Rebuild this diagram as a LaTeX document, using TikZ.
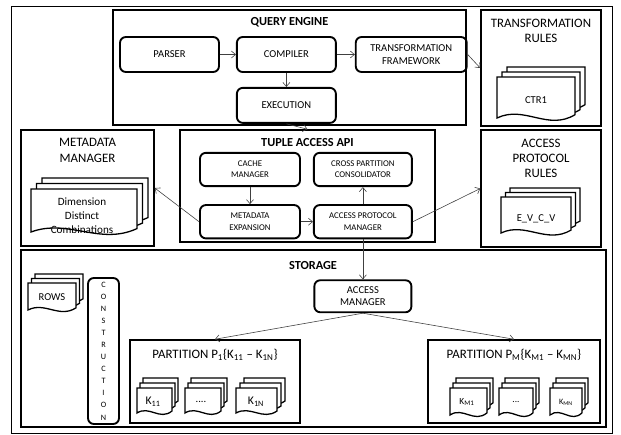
\documentclass[tikz,border=0pt]{standalone}
\usepackage{fontspec}
\setmainfont{Carlito}
\usetikzlibrary{positioning,fit,arrows.meta}

\tikzset{
  box/.style={draw, line width=1.6pt, rounded corners=5pt, align=center, inner sep=1pt,
    minimum width=2.97cm, minimum height=1.05cm, font=\fontsize{9}{10.5}\selectfont},
  smallbox/.style={box, minimum width=3cm, minimum height=1cm, font=\fontsize{7.5}{9.5}\selectfont},
  tallbox/.style={draw, line width=1.6pt, rounded corners=5pt, align=center, inner sep=0pt,
    minimum width=0.93cm, minimum height=4.38cm, font=\fontsize{7}{10.3}\selectfont},
  panel/.style={draw, line width=1.3pt, inner sep=0pt},
  heading/.style={font=\bfseries\fontsize{10.5}{12}\selectfont},
  paneltext/.style={align=center, font=\fontsize{11}{13}\selectfont},
  doctext/.style={align=center, font=\fontsize{9}{11}\selectfont},
  sheet/.style={draw, fill=white, line width=1.1pt},
  link/.style={draw=black!75, line width=0.5pt, -{Straight Barb[length=3.5pt,width=6pt]}},
}

% stack of three sheets with a wavy lower edge: left, top, right, bottom, dx, dy
\newcommand\docstack[6]{%
  \foreach \k in {2,1,0}{
    \draw[sheet, shift={(\k*#5,-\k*#6)}]
      (#1,#2) -- (#3,#2) -- ({#3},{#4-0.08*(#4-#2)})
      .. controls ({#3-0.35*(#3-#1)},{#4+0.32*(#4-#2)}) and ({#1+0.35*(#3-#1)},{#4-0.32*(#4-#2)}) .. (#1,#4)
      -- cycle;
  }%
}

\begin{document}
\begin{tikzpicture}[x=0.03cm, y=-0.03cm]
\useasboundingbox (0,0) rectangle (621,434);
\draw[line width=0.8pt] (11,6) rectangle (612,433);

% query engine
\node[panel, fit={(113,10) (466,125)}] (query) {};
\node[heading] (qtitle) at (289.5,22) {QUERY ENGINE};
\node[box] (parser) at (169.5,54.5) {PARSER};
\node[box, right=0.48cm of parser] (compiler) {COMPILER};
\node[box, right=0.54cm of compiler, minimum width=3.33cm] (framework) {TRANSFORMATION\\FRAMEWORK};
\node[box, below=0.42cm of compiler] (execution) {EXECUTION};

% transformation rules
\node[panel, fit={(481,10) (601,126)}] (trules) {};
\node[paneltext] (trtitle) at (541,30.5) {TRANSFORMATION\\RULES};
\docstack{497}{77}{575}{118}{5}{5}
\node[doctext] (ctr) at (536,100) {CTR1};

% metadata manager
\node[panel, fit={(21,130) (154,246)}] (metamgr) {};
\node[paneltext] (mmtitle) at (87.5,150.5) {METADATA\\MANAGER};
\docstack{31}{189}{137}{232}{5.5}{5.5}
\node[doctext, font=\fontsize{9.5}{12}\selectfont] (dims) at (82,216) {Dimension\\Distinct\\Combinations};

% tuple access api
\node[panel, fit={(180,130) (435,242)}] (tuple) {};
\node[heading] (tutitle) at (307.5,143) {TUPLE ACCESS API};
\node[smallbox] (cache) at (250,169.5) {CACHE\\MANAGER};
\node[smallbox, right=0.36cm of cache, minimum width=2.94cm] (consolidator) {CROSS PARTITION\\CONSOLIDATOR};
\node[smallbox, below=0.51cm of cache] (expansion) {METADATA\\EXPANSION};
\node[smallbox, below=0.51cm of consolidator, minimum width=2.94cm] (protocol) {ACCESS PROTOCOL\\MANAGER};

% access protocol rules
\node[panel, fit={(481,130) (601,247)}] (aprules) {};
\node[paneltext] (artitle) at (541,158.5) {ACCESS\\PROTOCOL\\RULES};
\docstack{501}{197}{571}{233}{4.5}{4.5}
\node[doctext] (evcv) at (536,219) {E\_V\_C\_V};

% storage
\node[panel, fit={(21,250) (606,427)}] (storage) {};
\node[heading] (sttitle) at (313,265) {STORAGE};
\node[box, below=1.2cm of protocol, minimum width=2.91cm, minimum height=0.96cm] (accessmgr) {ACCESS\\MANAGER};
\docstack{28}{283}{76}{310}{3.5}{4.5}
\node[doctext] (rows) at (52,297) {ROWS};
\node[tallbox] (construction) at (103.5,351) {C\\O\\N\\S\\T\\R\\U\\C\\T\\I\\O\\N};

% partitions
\node[panel, fit={(130,340) (300,423)}] (part1) {};
\node[paneltext] (p1title) at (215,355) {PARTITION P\textsubscript{1}\{K\textsubscript{11} -- K\textsubscript{1N}\}};
\docstack{137}{388}{172}{413}{3}{5}
\node[doctext, font=\fontsize{10}{12}\selectfont] (k11) at (153,402) {K\textsubscript{11}};
\docstack{185}{388}{221}{413}{3}{5}
\node[doctext] (kdots1) at (201,402) {....};
\docstack{236}{388}{277}{413}{4}{5}
\node[doctext, font=\fontsize{10}{12}\selectfont] (k1n) at (256,402) {K\textsubscript{1N}};

\node[panel, fit={(428,340) (600,423)}] (partm) {};
\node[paneltext] (pmtitle) at (514,355) {PARTITION P\textsubscript{M}\{K\textsubscript{M1} -- K\textsubscript{MN}\}};
\docstack{450}{388}{487}{415}{3}{5}
\node[doctext, font=\fontsize{8}{10}\selectfont] (km1) at (467,402) {K\textsubscript{M1}};
\docstack{499}{388}{533}{415}{3}{5}
\node[doctext, font=\fontsize{8}{10}\selectfont] (kdotsm) at (516,402) {...};
\docstack{550}{388}{582}{415}{3}{5}
\node[doctext, font=\fontsize{7}{9}\selectfont] (kmn) at (566,402) {K\textsubscript{MN}};

% connectors
\draw[link] (parser) -- (compiler);
\draw[link] (compiler) -- (framework);
\draw[link] (compiler) -- (execution);
\draw[link] (framework.east) -- (trules.west);
\draw[link] (execution.south) -- (tuple.north);
\draw[link] (cache) -- (expansion);
\draw[link] (expansion) -- (protocol);
\draw[link] (protocol) -- (consolidator);
\draw[link] (expansion.west) -- (metamgr.east);
\draw[link] (protocol.east) -- (aprules.west);
\draw[link] (protocol) -- (accessmgr);
\draw[link] (accessmgr.south) -- (part1.north);
\draw[link] (accessmgr.south) -- (partm.north);
\end{tikzpicture}
\end{document}
